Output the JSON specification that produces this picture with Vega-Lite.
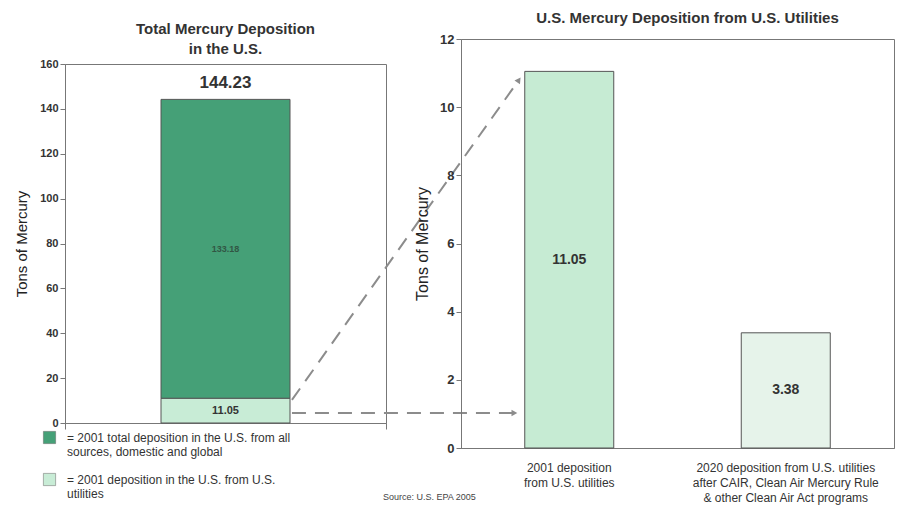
{
  "$schema": "https://vega.github.io/schema/vega-lite/v6.json",
  "padding": {"left": 14, "top": 10, "right": 5, "bottom": 2},
  "background": "white",
  "title": {"text": "Source: U.S. EPA 2005", "orient": "bottom", "anchor": "middle", "fontSize": 9, "font": "Liberation Sans", "fontWeight": "normal", "color": "#444", "offset": -11, "dx": -25},
  "datasets": {
    "left": [
      {"segment": "2001 deposition in the U.S. from U.S. utilities", "value": 11.05},
      {"segment": "2001 total deposition in the U.S. from all sources, domestic and global", "value": 133.18}
    ],
    "right": [
      {"scenario": "2001 deposition from U.S. utilities", "value": 11.05},
      {"scenario": "2020 deposition from U.S. utilities after CAIR, Clean Air Mercury Rule & other Clean Air Act programs", "value": 3.38}
    ],
    "arrows": [
      {"arrow": "top", "x": 7.07, "y": 10.3, "end": 0},
      {"arrow": "top", "x": 14.14, "y": 152.9, "end": 1},
      {"arrow": "base", "x": 7.07, "y": 4.46, "end": 0},
      {"arrow": "base", "x": 14.0, "y": 4.46, "end": 1}
    ]
  },
  "spacing": 75,
  "bounds": "flush",
  "center": true,
  "resolve": {"scale": {"color": "independent"}},
  "hconcat": [
    {
      "width": 321,
      "height": 359,
      "title": {"text": ["Total Mercury Deposition", "in the U.S."], "fontSize": 15, "fontWeight": "bold", "color": "#333", "offset": 1, "lineHeight": 20},
      "layer": [
        {
          "data": {"name": "left"},
          "mark": {"type": "bar", "orient": "vertical", "size": 129, "stroke": "#555", "strokeWidth": 1},
          "encoding": {
            "x": {"datum": 5, "type": "quantitative", "scale": {"domain": [0, 10], "padding": 0, "nice": false, "zero": false}, "axis": {"values": [0, 10], "labels": false, "title": null, "tickSize": 6}},
            "y": {"field": "value", "type": "quantitative", "stack": "zero", "title": "Tons of Mercury", "scale": {"domain": [0, 160]}, "axis": {"values": [0, 20, 40, 60, 80, 100, 120, 140, 160], "labelFontSize": 11, "titleFontSize": 15, "titlePadding": 10}},
            "color": {
              "field": "segment", "type": "nominal",
              "scale": {"domain": ["2001 total deposition in the U.S. from all sources, domestic and global", "2001 deposition in the U.S. from U.S. utilities"], "range": ["#45a077", "#c8ecd6"]},
              "legend": {"orient": "none", "legendX": -22, "legendY": 367, "title": null, "symbolType": "square", "symbolSize": 150, "symbolStrokeColor": "#666", "symbolStrokeWidth": 0.5, "labelFontSize": 12, "labelColor": "#333", "labelFontWeight": "normal", "labelOffset": 11, "rowPadding": 14, "labelLimit": 400, "padding": 0, "direction": "vertical",
                "labelExpr": "indexof(datum.label, 'total') >= 0 ? ['= 2001 total deposition in the U.S. from all', 'sources, domestic and global'] : ['= 2001 deposition in the U.S. from U.S.', 'utilities']"}
            },
            "order": {"field": "segment", "sort": "ascending"}
          }
        },
        {
          "data": {"name": "left"},
          "transform": [
            {"stack": "value", "groupby": [], "sort": [{"field": "segment"}], "as": ["v0", "v1"]},
            {"calculate": "(datum.v0 + datum.v1) / 2", "as": "mid"},
            {"filter": "datum.value < 50"}
          ],
          "mark": {"type": "text", "fontSize": 11, "fontWeight": "bold", "color": "#333"},
          "encoding": {
            "x": {"datum": 5, "type": "quantitative"},
            "y": {"field": "mid", "type": "quantitative", "title": "Tons of Mercury"},
            "text": {"field": "value", "type": "quantitative", "format": ".2f"}
          }
        },
        {
          "data": {"name": "left"},
          "transform": [
            {"stack": "value", "groupby": [], "sort": [{"field": "segment"}], "as": ["v0", "v1"]},
            {"calculate": "(datum.v0 + datum.v1) / 2", "as": "mid"},
            {"filter": "datum.value >= 50"}
          ],
          "mark": {"type": "text", "fontSize": 9, "fontWeight": "bold", "color": "#2f4a3c", "opacity": 0.85},
          "encoding": {
            "x": {"datum": 5, "type": "quantitative"},
            "y": {"field": "mid", "type": "quantitative", "title": "Tons of Mercury"},
            "text": {"field": "value", "type": "quantitative", "format": ".2f"}
          }
        },
        {
          "data": {"name": "left"},
          "transform": [{"aggregate": [{"op": "sum", "field": "value", "as": "total"}]}],
          "mark": {"type": "text", "fontSize": 17, "fontWeight": "bold", "color": "#333", "dy": -16},
          "encoding": {
            "x": {"datum": 5, "type": "quantitative"},
            "y": {"field": "total", "type": "quantitative", "title": "Tons of Mercury"},
            "text": {"field": "total", "type": "quantitative", "format": ".2f"}
          }
        },
        {
          "data": {"name": "arrows"},
          "mark": {"type": "line", "stroke": "#8c8c8c", "strokeWidth": 2, "strokeDash": [14, 9], "clip": false},
          "encoding": {
            "x": {"field": "x", "type": "quantitative", "title": null},
            "y": {"field": "y", "type": "quantitative", "title": "Tons of Mercury"},
            "detail": {"field": "arrow"}
          }
        },
        {
          "data": {"name": "arrows"},
          "transform": [{"filter": "datum.end == 1 && datum.arrow == 'top'"}],
          "mark": {"type": "point", "shape": "triangle-up", "angle": 35, "size": 45, "filled": true, "color": "#8c8c8c", "opacity": 1, "clip": false},
          "encoding": {
            "x": {"field": "x", "type": "quantitative", "title": null},
            "y": {"field": "y", "type": "quantitative", "title": "Tons of Mercury"}
          }
        },
        {
          "data": {"name": "arrows"},
          "transform": [{"filter": "datum.end == 1 && datum.arrow == 'base'"}],
          "mark": {"type": "point", "shape": "triangle-right", "size": 45, "filled": true, "color": "#8c8c8c", "opacity": 1, "clip": false},
          "encoding": {
            "x": {"field": "x", "type": "quantitative", "title": null},
            "y": {"field": "y", "type": "quantitative", "title": "Tons of Mercury"}
          }
        }
      ]
    },
    {
      "width": 433,
      "height": 409,
      "title": {"text": "U.S. Mercury Deposition from U.S. Utilities", "fontSize": 15, "fontWeight": "bold", "color": "#333", "offset": 7, "dx": 10},
      "data": {"name": "right"},
      "encoding": {
        "x": {"field": "scenario", "type": "nominal", "sort": null, "scale": {"paddingInner": 0, "paddingOuter": 0},
          "axis": {"title": null, "labelAngle": 0, "ticks": false, "labelFontWeight": "normal", "labelFontSize": 12, "labelPadding": 14, "labelLimit": 300, "labelLineHeight": 15,
            "labelExpr": "indexof(datum.label, '2001') == 0 ? ['2001 deposition', 'from U.S. utilities'] : ['2020 deposition from U.S. utilities', 'after CAIR, Clean Air Mercury Rule', '& other Clean Air Act programs']"}}
      },
      "layer": [
        {
          "mark": {"type": "bar", "size": 89, "stroke": "#555", "strokeWidth": 1},
          "encoding": {
            "y": {"field": "value", "type": "quantitative", "title": "Tons of Mercury", "scale": {"domain": [0, 12]}, "axis": {"values": [0, 2, 4, 6, 8, 10, 12], "labelFontSize": 13, "titleFontSize": 16, "titlePadding": 9}},
            "color": {"field": "scenario", "type": "nominal", "sort": null, "scale": {"range": ["#c6ebd3", "#e6f3ea"]}, "legend": null}
          }
        },
        {
          "transform": [{"calculate": "datum.value / 2", "as": "half"}],
          "mark": {"type": "text", "fontSize": 14, "fontWeight": "bold", "color": "#333"},
          "encoding": {
            "y": {"field": "half", "type": "quantitative", "title": "Tons of Mercury"},
            "text": {"field": "value", "type": "quantitative", "format": ".2f"}
          }
        }
      ]
    }
  ],
  "config": {
    "font": "Liberation Sans",
    "view": {"stroke": "#777", "strokeWidth": 1},
    "axis": {"domainColor": "#777", "tickColor": "#777", "labelColor": "#333", "titleColor": "#222", "labelFontWeight": "bold", "titleFontWeight": "normal", "grid": false, "tickSize": 5},
    "title": {"font": "Liberation Sans"},
    "legend": {"labelFont": "Liberation Sans"}
  }
}
